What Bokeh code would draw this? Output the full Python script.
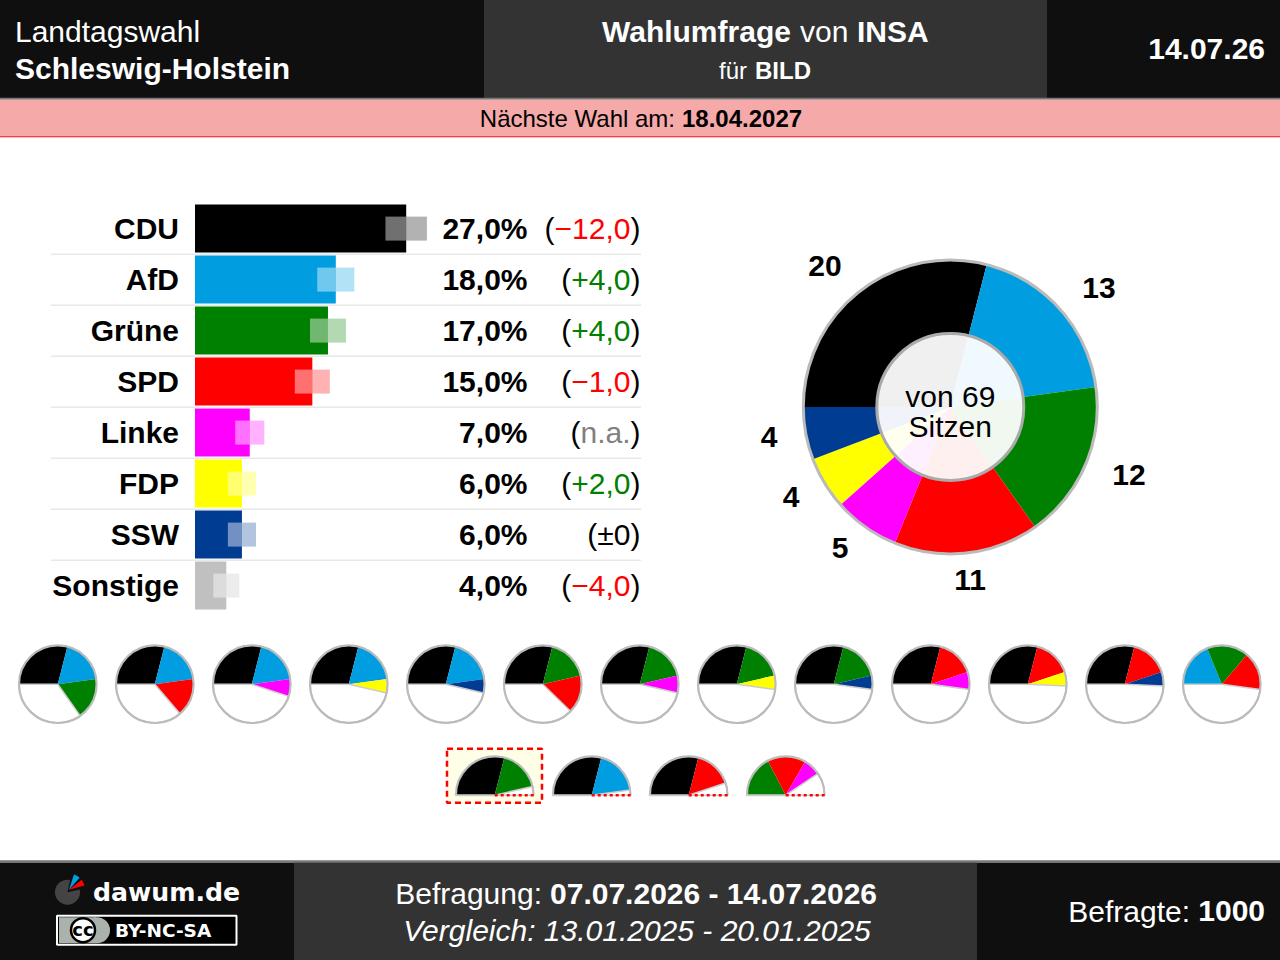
import math
from bokeh.plotting import figure
from bokeh.models import Range1d
from bokeh.core.properties import value
from bokeh.embed import file_html
from bokeh.resources import INLINE

# ---------- data ----------
parties = ["CDU", "AfD", "Grüne", "SPD", "Linke", "FDP", "SSW", "Sonstige"]
percent = [27.0, 18.0, 17.0, 15.0, 7.0, 6.0, 6.0, 4.0]
percent_labels = ["27,0%", "18,0%", "17,0%", "15,0%", "7,0%", "6,0%", "6,0%", "4,0%"]
changes = ["−12,0", "+4,0", "+4,0", "−1,0", "n.a.", "+2,0", "±0", "−4,0"]
uncertainty = [2.65, 2.37, 2.3, 2.24, 1.86, 1.8, 1.8, 1.66]
colors = ["#000000", "#009ee0", "#008000", "#ff0000", "#ff00ff", "#ffff00", "#003c91", "#c0c0c0"]
seat_parties = ["CDU", "AfD", "Grüne", "SPD", "Linke", "FDP", "SSW"]
seats = [20, 13, 12, 11, 5, 4, 4]
total_seats = 69
coalitions_row1 = [
    ["CDU", "AfD", "Grüne"], ["CDU", "AfD", "SPD"], ["CDU", "AfD", "Linke"], ["CDU", "AfD", "FDP"],
    ["CDU", "AfD", "SSW"], ["CDU", "Grüne", "SPD"], ["CDU", "Grüne", "Linke"], ["CDU", "Grüne", "FDP"],
    ["CDU", "Grüne", "SSW"], ["CDU", "SPD", "Linke"], ["CDU", "SPD", "FDP"], ["CDU", "SPD", "SSW"],
    ["AfD", "Grüne", "SPD"],
]
coalitions_row2 = [["CDU", "Grüne"], ["CDU", "AfD"], ["CDU", "SPD"], ["Grüne", "SPD", "Linke"]]

# ---------- layout (pixels) ----------
W, H = 1280, 960
SX, SY = 0.5, 0.3
SANS = value("Liberation Sans")
DEJA = value("DejaVu Sans")
DARK, MID = "#0f0f0f", "#333333"
GRAY = "#bbbbbb"
color_of = dict(zip(parties, colors))
seats_of = dict(zip(seat_parties, seats))

p = figure(width=W + 1, height=H + 1, x_range=Range1d(SX - 1, W + SX), y_range=Range1d(H + SY, SY - 1),
           x_axis_location=None, y_axis_location=None, toolbar_location=None,
           output_backend="svg", min_border=0, outline_line_color=None,
           background_fill_color="#ffffff", border_fill_color="#ffffff")
p.grid.visible = False
p.margin = (-1, 0, 0, -1)

# value scale of the bars: 0 % at pixel 195, 27 % at pixel 406.2
PX = (406.2 - 195.0) / 27.0
p.extra_x_ranges["pct"] = Range1d((SX - 1 - 195.0) / PX, (W + SX - 195.0) / PX)


def box(x0, x1, y0, y1, color, **kw):
    p.quad(left=[x0], right=[x1], top=[y0], bottom=[y1], fill_color=color, line_color=None, **kw)


def txt(x, y, s, size=30, bold=False, italic=False, align="left", color="#000000", font=SANS):
    style = "bold italic" if bold and italic else "bold" if bold else "italic" if italic else "normal"
    p.text(x=[x], y=[y], text=[s], text_font=font, text_font_size=f"{size}px", text_font_style=style,
           text_align=align, text_baseline="middle", text_color=color)


# ---------- header ----------
box(-2, W + 2, -2, 98, DARK)
box(484, 1047, -2, 98, MID)
box(-2, W + 2, 97.5, 99.5, "#777777")
box(-2, W + 2, 99.5, 136, "#f5a9a9")
box(-2, W + 2, 136, 137, "#ff0000")
txt(15, 31, "Landtagswahl", color="#ffffff")
txt(15, 68, "Schleswig-Holstein", bold=True, color="#ffffff")
txt(602, 31, "Wahlumfrage", bold=True, color="#ffffff")
txt(800, 31, "von", color="#ffffff")
txt(857, 31, "INSA", bold=True, color="#ffffff")
txt(719, 70, "für", size=24, color="#ffffff")
txt(755, 70, "BILD", size=24, bold=True, color="#ffffff")
txt(1265, 49, "14.07.26", bold=True, align="right", color="#ffffff")
txt(675, 118, "Nächste Wahl am:", size=24, align="right")
txt(682, 118, "18.04.2027", size=24, bold=True)

# ---------- bars ----------
ROW0, STEP = 228.4, 51.0
for i in range(7):
    y = ROW0 + STEP * i + 25.6
    box(51, 641, y - 0.8, y + 0.8, "#e8e8e8")

CHAR_W = {"−": .584, "+": .584, "±": .549, ",": .278, ".": .278, "n": .556, "a": .556}


def width_30(s):
    return 30 * sum(CHAR_W.get(c, .556) for c in s)


for i, party in enumerate(parties):
    y = ROW0 + STEP * i
    p.quad(left=[0], right=[percent[i]], top=[y - 24], bottom=[y + 24], x_range_name="pct",
           fill_color=colors[i], line_color=None)
    p.quad(left=[percent[i] - uncertainty[i]], right=[percent[i]], top=[y - 12], bottom=[y + 12],
           x_range_name="pct", fill_color="#ffffff", fill_alpha=0.44, line_color=None)
    p.quad(left=[percent[i]], right=[percent[i] + uncertainty[i]], top=[y - 12], bottom=[y + 12],
           x_range_name="pct", fill_color=colors[i], fill_alpha=0.3, line_color=None)
    base = y
    txt(179, base, party, bold=True, align="right")
    txt(527.5, base, percent_labels[i], bold=True, align="right")
    ch = changes[i]
    c = "#ff0000" if ch[0] == "−" else "#008000" if ch[0] == "+" else "#808080" if ch[0] == "n" else "#000000"
    txt(640.5, base, ")", align="right")
    txt(630.5, base, ch, align="right", color=c)
    txt(630.5 - width_30(ch), base, "(", align="right")


# ---------- pies ----------
def slices(cx, cy, r, names):
    angle = math.pi
    for name in names:
        share = seats_of[name] / total_seats * 2 * math.pi
        p.wedge(x=[cx], y=[cy], radius=r, start_angle=angle, end_angle=angle - share, direction="clock",
                fill_color=color_of[name], line_color=None)
        angle -= share
    return angle


CX, CY, R_OUT, R_IN = 950.3, 406.8, 147.0, 73.5
slices(CX, CY, R_OUT, seat_parties)
p.circle(x=[CX], y=[CY], radius=R_OUT, fill_color=None, line_color=GRAY, line_width=3)
p.circle(x=[CX], y=[CY], radius=R_IN, fill_color="#ffffff", fill_alpha=0.94, line_color="#aaaaaa", line_width=3)
txt(CX, 396.5, "von 69", align="center")
txt(CX, 426.5, "Sitzen", align="center")

seat_label_xy = [(825, 266), (1099, 288), (1129, 475), (970, 580), (840, 548), (791, 497), (769, 437)]
for (lx, ly), n in zip(seat_label_xy, seats):
    txt(lx, ly, str(n), bold=True, align="center")

R_SMALL = 38.8
row1_x0, row_dx, row1_y = 57.8, 97.0, 684.0
for k, names in enumerate(coalitions_row1):
    cx = row1_x0 + row_dx * k
    p.circle(x=[cx], y=[row1_y], radius=R_SMALL, fill_color="#ffffff", line_color=None)
    end = slices(cx, row1_y, R_SMALL, names)
    p.wedge(x=[cx], y=[row1_y], radius=R_SMALL, start_angle=end, end_angle=math.pi - 2 * math.pi,
            direction="clock", fill_color="#ffffff", line_color="#cccccc", line_width=1.5)
    p.circle(x=[cx], y=[row1_y], radius=R_SMALL, fill_color=None, line_color=GRAY, line_width=2.2)

# highlighted coalition box
box(447, 542, 748, 803, "#ffffe8")
p.quad(left=[447], right=[542], top=[748.5], bottom=[802.5], fill_color=None, line_color="#ff0000",
       line_width=2.5, line_dash="6 4")

row2_x0, row2_y = 494.7, 795.0
for k, names in enumerate(coalitions_row2):
    cx = row2_x0 + row_dx * k
    p.wedge(x=[cx], y=[row2_y], radius=R_SMALL, start_angle=0, end_angle=math.pi, direction="anticlock",
            fill_color="#ffffff", line_color=None)
    end = slices(cx, row2_y, R_SMALL, names)
    p.wedge(x=[cx], y=[row2_y], radius=R_SMALL, start_angle=end, end_angle=0, direction="clock",
            fill_color="#ffffff", line_color="#cccccc", line_width=1.5)
    p.arc(x=[cx], y=[row2_y], radius=R_SMALL, start_angle=0, end_angle=math.pi, direction="anticlock",
          line_color=GRAY, line_width=2.2)
    p.line(x=[cx - R_SMALL - 1, cx], y=[row2_y, row2_y], line_color="#cccccc", line_width=2)
    p.line(x=[cx, cx + R_SMALL + 1], y=[row2_y, row2_y], line_color="#ff0000", line_width=2.4, line_dash="3 3")

# ---------- footer ----------
box(-2, W + 2, 860, 862.5, "#777777")
box(-2, W + 2, 862.5, H + 2, DARK)
box(294, 977, 862.5, H + 2, MID)

# logo
p.circle(x=[67.5], y=[892], radius=12.5, fill_color="#444444", line_color=None)
p.wedge(x=[67.5], y=[892], radius=14, start_angle=math.radians(12), end_angle=math.radians(78),
        fill_color=DARK, line_color=None)
p.wedge(x=[69], y=[889.5], radius=16, start_angle=math.radians(15), end_angle=math.radians(38),
        fill_color="#ff0000", line_color=None)
p.wedge(x=[69], y=[889.5], radius=16, start_angle=math.radians(48), end_angle=math.radians(72),
        fill_color="#009ee0", line_color=None)
txt(93, 892, "dawum.de", size=25.2, bold=True, color="#ffffff", font=DEJA)

# licence badge
p.quad(left=[57], right=[236.5], top=[915.5], bottom=[944.5], fill_color="#000000", line_color="#ffffff", line_width=2)
box(59, 96, 917, 943, "#aab2ab")
p.circle(x=[97], y=[930], radius=13, fill_color="#aab2ab", line_color=None)
p.circle(x=[83], y=[930], radius=12, fill_color="#ffffff", line_color="#000000", line_width=2.5)
txt(83, 929, "cc", size=18, bold=True, align="center", font=DEJA)
txt(115, 930, "BY-NC-SA", size=18.5, bold=True, color="#ffffff", font=DEJA)

txt(542, 893, "Befragung:", align="right", color="#ffffff")
txt(877, 893, "07.07.2026 - 14.07.2026", bold=True, align="right", color="#ffffff")
txt(637, 930, "Vergleich: 13.01.2025 - 20.01.2025", italic=True, align="center", color="#ffffff")
txt(1265, 911, "1000", bold=True, align="right", color="#ffffff")
txt(1190, 911, "Befragte:", align="right", color="#ffffff")

open("out.html", "w").write(file_html(p, INLINE))
